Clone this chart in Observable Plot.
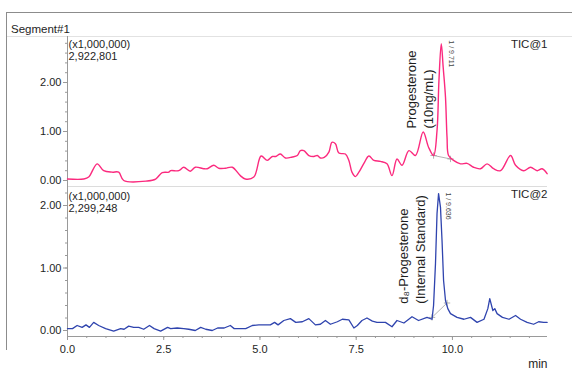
<!DOCTYPE html>
<html>
<head>
<meta charset="utf-8">
<script src="https://cdn.jsdelivr.net/npm/d3@7"></script>
<script src="https://cdn.jsdelivr.net/npm/@observablehq/plot@0.6"></script>
<style>
  body { margin: 0; background: #fff; }
  #wrap { position: relative; width: 572px; height: 373px; overflow: hidden; background: #fff; }
  #wrap > svg { position: absolute; left: 0; }
</style>
</head>
<body>
<div id="wrap"></div>
<script>
// ---------- data ----------
const segmentTitle = "Segment#1";
const xUnit = "min";
const xMax = 12.47;
const xTicks = [0, 2.5, 5, 7.5, 10];
const xMinorTicks = d3.range(0, 12.5, 0.5);
const yTicks = [0, 1, 2];
const yMinorTicks = d3.range(0, 2.9, 0.2);

const topTime = [0, 0.42, 0.55, 0.77, 0.94, 1.16, 1.33, 1.46, 2.07, 2.29, 2.46, 2.63, 2.68, 2.89, 3.02, 3.19, 3.32, 3.54, 3.63, 3.80, 3.93, 4.10, 4.28, 4.49, 4.62, 4.84, 5.03, 5.19, 5.32, 5.41, 5.53, 5.66, 5.84, 5.97, 6.05, 6.14, 6.27, 6.40, 6.49, 6.57, 6.67, 6.79, 6.87, 6.96, 7.05, 7.22, 7.31, 7.39, 7.48, 7.57, 7.70, 7.83, 7.96, 8.13, 8.30, 8.43, 8.56, 8.69, 8.87, 9.04, 9.24, 9.38, 9.51, 9.60, 9.65, 9.71, 9.76, 9.82, 9.86, 9.90, 10.03, 10.21, 10.38, 10.55, 10.73, 10.90, 11.07, 11.25, 11.51, 11.64, 11.85, 12.03, 12.20, 12.33, 12.46];
const topSignal = [0.03, 0.03, 0.07, 0.34, 0.20, 0.17, 0.17, 0.00, -0.01, 0.03, 0.16, 0.17, 0.20, 0.20, 0.27, 0.19, 0.27, 0.24, 0.24, 0.31, 0.25, 0.25, 0.27, 0.10, 0.03, 0.07, 0.50, 0.41, 0.49, 0.49, 0.54, 0.46, 0.48, 0.51, 0.61, 0.61, 0.51, 0.49, 0.51, 0.46, 0.47, 0.58, 0.78, 0.75, 0.56, 0.54, 0.41, 0.17, 0.08, 0.17, 0.35, 0.50, 0.41, 0.39, 0.34, 0.10, 0.44, 0.31, 0.61, 0.51, 0.99, 0.68, 0.51, 1.02, 2.04, 2.79, 2.31, 1.70, 0.88, 0.51, 0.41, 0.34, 0.35, 0.27, 0.24, 0.34, 0.24, 0.20, 0.51, 0.31, 0.20, 0.27, 0.20, 0.24, 0.14];

const botTime = [0, 0.13, 0.25, 0.38, 0.48, 0.57, 0.68, 0.81, 0.99, 1.20, 1.38, 1.47, 1.59, 1.72, 1.85, 1.98, 2.13, 2.25, 2.42, 2.60, 2.68, 2.85, 3.02, 3.15, 3.32, 3.46, 3.59, 3.76, 3.90, 4.07, 4.23, 4.33, 4.63, 4.80, 4.97, 5.27, 5.38, 5.47, 5.62, 5.79, 5.93, 6.10, 6.27, 6.44, 6.57, 6.70, 6.83, 7.01, 7.14, 7.31, 7.44, 7.53, 7.65, 7.78, 7.92, 8.04, 8.26, 8.43, 8.56, 8.74, 8.95, 9.12, 9.34, 9.47, 9.51, 9.56, 9.60, 9.64, 9.69, 9.73, 9.77, 9.82, 9.88, 9.95, 10.12, 10.30, 10.47, 10.64, 10.82, 10.92, 10.97, 11.05, 11.10, 11.16, 11.30, 11.47, 11.64, 11.77, 11.94, 12.11, 12.24, 12.37, 12.46];
const botSignal = [0.03, 0.03, 0.08, 0.05, 0.09, 0.05, 0.13, 0.08, 0.03, -0.01, 0.03, 0.02, 0.07, 0.05, 0.05, 0.02, 0.08, 0.03, -0.01, 0.05, 0.03, 0.04, 0.03, 0.02, 0.00, 0.05, 0.02, 0.00, 0.04, 0.04, 0.08, 0.03, 0.03, 0.08, 0.09, 0.09, 0.13, 0.09, 0.16, 0.19, 0.13, 0.14, 0.19, 0.09, 0.10, 0.16, 0.10, 0.14, 0.18, 0.17, 0.04, 0.08, 0.16, 0.20, 0.15, 0.13, 0.13, 0.06, 0.16, 0.12, 0.22, 0.16, 0.21, 0.18, 0.40, 1.07, 1.87, 2.19, 1.97, 1.44, 0.80, 0.48, 0.35, 0.27, 0.21, 0.18, 0.21, 0.13, 0.18, 0.35, 0.51, 0.32, 0.35, 0.27, 0.21, 0.18, 0.24, 0.18, 0.13, 0.10, 0.14, 0.13, 0.13];

const topHeader = "(x1,000,000)\n2,922,801";
const botHeader = "(x1,000,000)\n2,299,248";
const topTrace = "TIC@1";
const botTrace = "TIC@2";

const topLabels = [
  {t: 8.95, v: 1.06, text: "Progesterone"},
  {t: 9.39, v: 1.06, text: "(10ng/mL)"}
];
const topPeak = [{t: 9.97, v: 2.86, text: "1 / 9.711"}];
const topBaseline = [{t: 9.51, v: 0.51}, {t: 9.95, v: 0.44}];

const botLabels = [
  {t: 8.73, v: 0.43, text: "d\u2088-Progesterone"},
  {t: 9.17, v: 0.43, text: "(Internal Standard)"}
];
const botPeak = [{t: 9.90, v: 2.21, text: "1 / 9.636"}];
const botBaseline = [{t: 9.47, v: 0.21}, {t: 9.86, v: 0.44}];

// ---------- styles ----------
const FONT = "'Liberation Sans', Arial, Helvetica, sans-serif";
const PINK = "#fb2a7e";
const BLUE = "#2f44ae";
const AXIS = "#9a9a9a";
const INK = "#1e1e1e";

const topSeries = topTime.map((t, i) => ({t, v: topSignal[i]}));
const botSeries = botTime.map((t, i) => ({t, v: botSignal[i]}));

const wrap = document.getElementById("wrap");

// frame overlay
const frame = d3.create("svg").attr("width", 572).attr("height", 373)
  .style("top", "0px").style("font-family", FONT);
frame.append("line").attr("x1", 6).attr("y1", 12.5).attr("x2", 572).attr("y2", 12.5).attr("stroke", "#8c8c8c");
frame.append("line").attr("x1", 6.5).attr("y1", 12).attr("x2", 6.5).attr("y2", 350).attr("stroke", "#8c8c8c");
frame.append("line").attr("x1", 7).attr("y1", 36.5).attr("x2", 572).attr("y2", 36.5).attr("stroke", "#e2e2e2");
frame.append("text").attr("x", 11).attr("y", 33).attr("font-size", 11.5).attr("fill", INK).text(segmentTitle);
wrap.append(frame.node());

// top panel: value 0 at y=180 px, 49 px per unit, frame 36..186
const topDomain = [-6 / 49, 144 / 49];
const topPlot = Plot.plot({
  width: 572, height: 186,
  marginLeft: 67, marginRight: 25, marginTop: 36, marginBottom: 0,
  style: {background: "transparent", fontFamily: FONT, fontSize: "11px", color: INK, overflow: "visible", position: "absolute", top: "0px", left: "0px"},
  x: {domain: [0, xMax], axis: null},
  y: {domain: topDomain, axis: null},
  marks: [
    Plot.ruleX([0], {stroke: AXIS}),
    Plot.axisY(yMinorTicks, {tickSize: 2, tickFormat: () => "", stroke: AXIS, label: null}),
    Plot.axisY(yTicks, {tickSize: 4, tickPadding: 2, tickFormat: d3.format(".2f"), stroke: AXIS, fill: INK, label: null, fontSize: 11}),
    Plot.line(topBaseline, {x: "t", y: "v", stroke: "#a0a0a0", strokeWidth: 0.8}),
    Plot.dot(topBaseline, {x: "t", y: "v", symbol: "plus", r: 2.2, stroke: "#a0a0a0", strokeWidth: 0.8}),
    Plot.line(topSeries, {x: "t", y: "v", stroke: PINK, strokeWidth: 1.4, curve: "catmull-rom"}),
    Plot.text([topHeader], {frameAnchor: "top-left", textAnchor: "start", lineAnchor: "top", dx: 1, dy: 3.2, fontSize: 11, lineHeight: 1.1, fill: INK}),
    Plot.text([topTrace], {frameAnchor: "top-right", textAnchor: "end", lineAnchor: "top", dy: 3, fontSize: 11.5, fill: INK}),
    Plot.text(topLabels, {x: "t", y: "v", text: "text", rotate: -90, textAnchor: "start", lineAnchor: "middle", fontSize: 13, fill: INK}),
    Plot.text(topPeak, {x: "t", y: "v", text: "text", rotate: 90, textAnchor: "start", lineAnchor: "middle", fontSize: 7, fill: "#444"})
  ]
});
wrap.append(topPlot);

// bottom panel: value 0 at y=330 px, 62.5 px per unit, frame 186..336
const botDomain = [-6 / 62.5, 144 / 62.5];
const botPlot = Plot.plot({
  width: 572, height: 187,
  marginLeft: 67, marginRight: 25, marginTop: 0, marginBottom: 37,
  style: {background: "transparent", fontFamily: FONT, fontSize: "11px", color: INK, overflow: "visible", position: "absolute", top: "186px", left: "0px"},
  x: {domain: [0, xMax]},
  y: {domain: botDomain, axis: null},
  marks: [
    Plot.ruleY([botDomain[1]], {stroke: "#dcdcdc"}),
    Plot.ruleX([0], {stroke: AXIS}),
    Plot.ruleY([botDomain[0]], {stroke: AXIS}),
    Plot.axisY(yMinorTicks.filter(d => d < 2.3), {tickSize: 2, tickFormat: () => "", stroke: AXIS, label: null}),
    Plot.axisY(yTicks, {tickSize: 4, tickPadding: 2, tickFormat: d3.format(".2f"), stroke: AXIS, fill: INK, label: null, fontSize: 11}),
    Plot.axisX(xMinorTicks, {tickSize: 2, tickFormat: () => "", stroke: AXIS, label: null}),
    Plot.axisX(xTicks, {tickSize: 4, tickPadding: 5, tickFormat: d3.format(".1f"), stroke: AXIS, fill: INK, label: null, fontSize: 11}),
    Plot.line(botBaseline, {x: "t", y: "v", stroke: "#a0a0a0", strokeWidth: 0.8}),
    Plot.dot(botBaseline, {x: "t", y: "v", symbol: "plus", r: 2.2, stroke: "#a0a0a0", strokeWidth: 0.8}),
    Plot.line(botSeries, {x: "t", y: "v", stroke: BLUE, strokeWidth: 1.3}),
    Plot.text([botHeader], {frameAnchor: "top-left", textAnchor: "start", lineAnchor: "top", dx: 1, dy: 5.2, fontSize: 11, lineHeight: 1.1, fill: INK}),
    Plot.text([botTrace], {frameAnchor: "top-right", textAnchor: "end", lineAnchor: "top", dy: 3, fontSize: 11.5, fill: INK}),
    Plot.text(botLabels, {x: "t", y: "v", text: "text", rotate: -90, textAnchor: "start", lineAnchor: "middle", fontSize: 13, fill: INK}),
    Plot.text(botPeak, {x: "t", y: "v", text: "text", rotate: 90, textAnchor: "start", lineAnchor: "middle", fontSize: 7, fill: "#444"}),
    Plot.text([xUnit], {frameAnchor: "bottom-right", textAnchor: "end", lineAnchor: "bottom", dy: 31, fontSize: 12, fill: INK})
  ]
});
wrap.append(botPlot);
</script>
</body>
</html>
